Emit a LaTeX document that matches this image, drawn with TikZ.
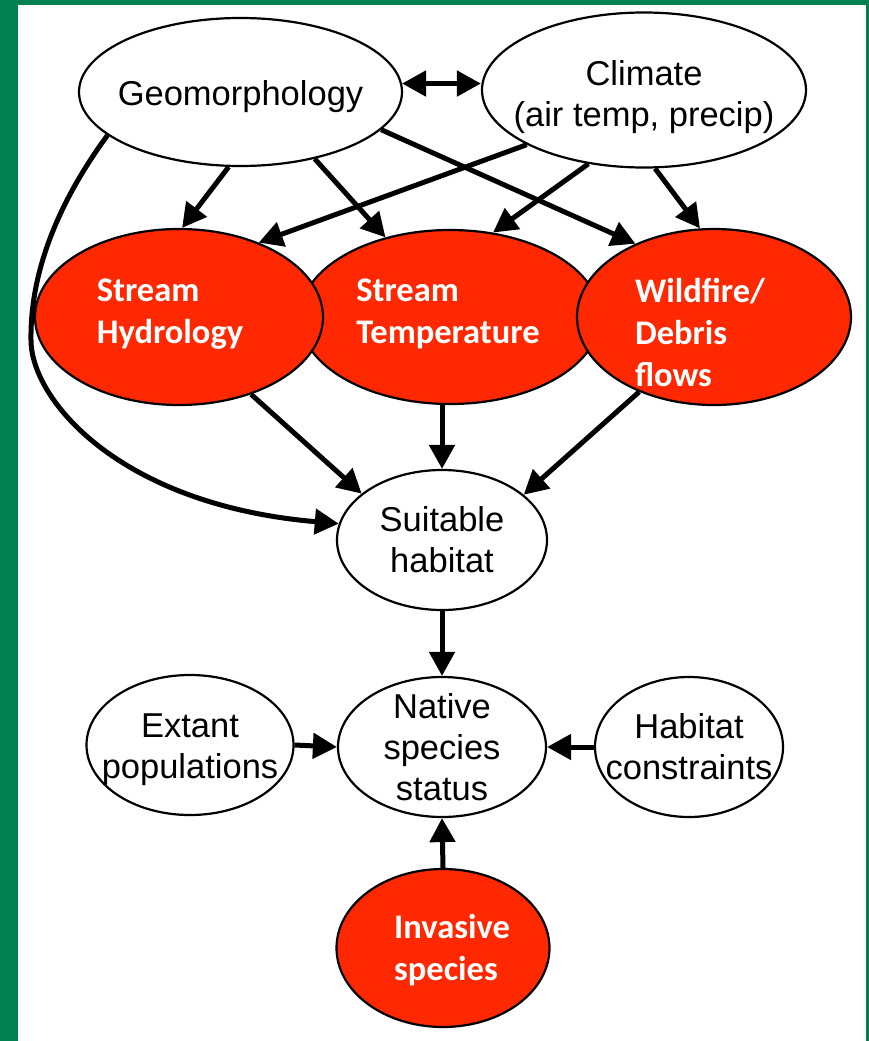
\documentclass[tikz,border=0pt]{standalone}
\usepackage{fontspec}
\setmainfont{Liberation Sans}
\newfontfamily\calib{Carlito}
\usetikzlibrary{arrows.meta,shapes.geometric}
\definecolor{framegreen}{RGB}{0,128,80}
\definecolor{redfill}{RGB}{255,40,0}
\begin{document}
\begin{tikzpicture}[x=1pt,y=-1pt,
  ell/.style={ellipse, draw=black, line width=2.2pt, inner sep=0pt},
  wnode/.style={ell, fill=white},
  rnode/.style={ell, fill=redfill},
  wtext/.style={text=black, align=center, font=\fontsize{34.5}{41}\selectfont, inner sep=0pt},
  rtext/.style={text=white, align=left, font=\calib\bfseries\fontsize{34.5}{42}\selectfont, inner sep=0pt},
  arr/.style={line width=5pt, -{Triangle[length=24pt,width=25pt]}},
  darr/.style={line width=5pt, {Triangle[length=24pt,width=25pt]}-{Triangle[length=24pt,width=25pt]}},
]
\fill[framegreen] (0,0) rectangle (869,1041);
\fill[white] (18,5) rectangle (866,1041);
\useasboundingbox (0,0) rectangle (869,1041);

% top row
\node[wnode, minimum width=323pt, minimum height=148pt,
  label={[wtext, name=geot, yshift=-5pt]center:Geomorphology}] (geo) at (240.5,92) {};
\node[wnode, minimum width=324pt, minimum height=155pt,
  label={[wtext, name=clit, yshift=-7pt]center:{Climate\\(air temp, precip)}}] (cli) at (644,90) {};

% middle red row
\node[rnode, minimum width=300pt, minimum height=174pt,
  label={[rtext, name=tmpt, xshift=-2pt, yshift=3pt]center:{Stream\\Temperature}}] (tmp) at (450,317) {};
\node[rnode, minimum width=288pt, minimum height=176pt,
  label={[rtext, name=hydt, xshift=-9pt, yshift=3pt]center:{Stream\\Hydrology}}] (hyd) at (179,317) {};
\node[rnode, minimum width=274pt, minimum height=176pt,
  label={[rtext, name=wildt, xshift=-14pt, yshift=-15pt]center:{Wildfire/\\Debris\\flows}}] (wild) at (714,317) {};

% lower nodes
\node[wnode, minimum width=210pt, minimum height=140pt,
  label={[wtext, name=suitt]center:{Suitable\\habitat}}] (suit) at (442,540) {};
\node[wnode, minimum width=208pt, minimum height=140pt,
  label={[wtext, name=natt]center:{Native\\species\\status}}] (nat) at (442,747) {};
\node[wnode, minimum width=207pt, minimum height=140pt,
  label={[wtext, name=extt, yshift=-5pt]center:{Extant\\populations}}] (ext) at (190,745) {};
\node[wnode, minimum width=188pt, minimum height=140pt,
  label={[wtext, name=habt]center:{Habitat\\constraints}}] (hab) at (689,747) {};
\node[rnode, minimum width=213pt, minimum height=158pt,
  label={[rtext, name=invt, xshift=9pt, yshift=-2pt]center:{Invasive\\species}}] (inv) at (443,948) {};

% connectors
\draw[darr] (geo.3) -- (geo.3 -| cli.west);
\draw[arr] (geo.261) -- (hyd.88);
\draw[arr] (geo.318) -- (tmp.129);
\draw[arr] (geo.345) -- (wild.137);
\draw[arr] (cli.205) -- (hyd.43);
\draw[arr] (cli.233) -- (tmp.63);
\draw[arr] (cli.278) -- (wild.99);
\draw[arr] (hyd.313) -- (suit.150);
\draw[arr] (tmp.south -| suit.north) -- (suit.north);
\draw[arr] (wild.225) -- (suit.29);
\draw[arr] (geo.198) .. controls (60,200) and (30,270) .. (31,340) .. controls (31,400) and (120,505) .. (suit.171);
\draw[arr] (suit.south) -- (nat.north);
\draw[arr] (ext.east) -- (nat.west);
\draw[arr] (hab.west) -- (nat.east);
\draw[arr] (inv.north) -- (nat.south);
\end{tikzpicture}
\end{document}
